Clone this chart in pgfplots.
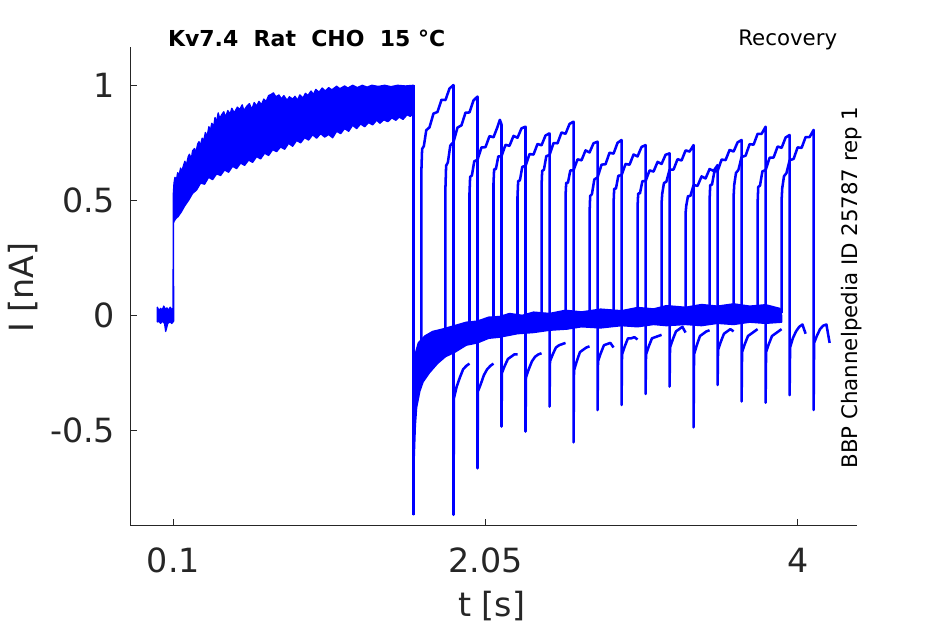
\documentclass[border=0pt]{standalone}
\usepackage{pgfplots}
\pgfplotsset{compat=1.18}
\usepackage{fontspec}
\setmainfont{DejaVu Sans}
\definecolor{axgray}{HTML}{262626}
\definecolor{trc}{RGB}{0,0,255}
\begin{document}
\begin{tikzpicture}
\path[use as bounding box] (0,0) rectangle (708.75pt,468pt);
\begin{axis}[
 at={(97.5pt,73.5pt)}, anchor=south west,
 scale only axis, width=545pt, height=359.5pt,
 xmin=-0.171, xmax=4.369, ymin=-0.916, ymax=1.168,
 axis x line*=bottom, axis y line*=left,
 axis line style={axgray, line width=0.75pt},
 xtick={0.1,2.05,4}, xticklabels={0.1,2.05,4},
 ytick={-0.5,0,0.5,1}, yticklabels={-0.5,0,0.5,1},
 tick align=inside, major tick length=5.25pt,
 tick style={axgray, line width=0.75pt},
 ticklabel style={font=\fontsize{25}{30}\selectfont, text=axgray, inner sep=0pt},
 xticklabel style={anchor=base, yshift=-35pt},
 yticklabel style={anchor=east, xshift=-11pt},
 tr/.style={draw=trc, solid, mark=none, line width=1.9pt, line join=round},
 band/.style={draw=trc, fill=trc, solid, mark=none, line width=1pt, line join=round},
]
% pulse 1 band (all sweeps overlaid)
\addplot[band] coordinates {
(0,-0.03) (0,0.035) (0.01,0.02) (0.02,0.03) (0.03,0.022) (0.04,0.04) (0.05,0.025) (0.06,0.032) (0.07,0.022) (0.08,0.035) (0.09,0.025) (0.098,0.03)
(0.100,0.53) (0.104,0.575) (0.110,0.60) (0.118,0.585) (0.127,0.62) (0.135,0.605) (0.145,0.64) (0.152,0.625) (0.165,0.655) (0.172,0.67) (0.18,0.65) (0.193,0.69) (0.20,0.70) (0.212,0.68) (0.22,0.715) (0.232,0.725) (0.24,0.705) (0.252,0.745) (0.26,0.755) (0.268,0.735) (0.28,0.77) (0.29,0.76) (0.30,0.795) (0.31,0.775) (0.322,0.82) (0.33,0.80) (0.34,0.835) (0.352,0.82) (0.36,0.86) (0.37,0.84) (0.38,0.88) (0.39,0.855) (0.40,0.87) (0.415,0.885) (0.425,0.86) (0.44,0.89) (0.455,0.875) (0.465,0.9) (0.48,0.88) (0.50,0.905) (0.515,0.895) (0.53,0.915) (0.54,0.89) (0.56,0.91) (0.575,0.92) (0.59,0.895) (0.605,0.925) (0.62,0.91) (0.635,0.93) (0.65,0.915) (0.665,0.94) (0.68,0.93) (0.695,0.955) (0.71,0.96) (0.725,0.967) (0.74,0.95) (0.76,0.958) (0.775,0.94) (0.79,0.955) (0.81,0.935) (0.825,0.95) (0.845,0.94) (0.86,0.952) (0.875,0.935) (0.89,0.958) (0.91,0.945) (0.925,0.965) (0.94,0.955) (0.96,0.975) (0.975,0.96) (0.99,0.982) (1.01,0.97) (1.03,0.988) (1.05,0.975) (1.07,0.99) (1.09,0.98) (1.12,0.996) (1.14,0.985) (1.17,0.997) (1.19,0.988) (1.22,1.0) (1.25,0.99) (1.28,1.0) (1.31,0.992) (1.34,1.0) (1.38,0.995) (1.42,1.0) (1.46,0.994) (1.50,1.0) (1.55,0.997) (1.60,1.0)
(1.60,0.878) (1.58,0.865) (1.56,0.872) (1.535,0.852) (1.51,0.862) (1.49,0.848) (1.465,0.858) (1.44,0.842) (1.415,0.85) (1.39,0.835) (1.37,0.848) (1.345,0.828) (1.32,0.838) (1.295,0.82) (1.27,0.832) (1.245,0.812) (1.22,0.826) (1.195,0.80) (1.17,0.812) (1.145,0.79) (1.12,0.8) (1.095,0.772) (1.07,0.786) (1.045,0.775) (1.02,0.79) (0.995,0.77) (0.97,0.785) (0.945,0.762) (0.92,0.772) (0.895,0.75) (0.87,0.76) (0.845,0.735) (0.82,0.748) (0.795,0.722) (0.77,0.732) (0.745,0.712) (0.72,0.72) (0.695,0.695) (0.67,0.705) (0.645,0.68) (0.62,0.69) (0.595,0.665) (0.57,0.675) (0.545,0.652) (0.52,0.662) (0.495,0.638) (0.47,0.648) (0.445,0.622) (0.42,0.632) (0.395,0.608) (0.37,0.615) (0.345,0.59) (0.32,0.6) (0.295,0.57) (0.27,0.575) (0.245,0.545) (0.22,0.53) (0.195,0.5) (0.17,0.475) (0.15,0.45) (0.13,0.43) (0.115,0.42) (0.105,0.41) (0.10,0.40)
(0.102,-0.025) (0.09,-0.035) (0.08,-0.028) (0.065,-0.035) (0.052,-0.07) (0.045,-0.035) (0.03,-0.025) (0.02,-0.035) (0.01,-0.025) (0,-0.03)
};
% drop at end of pulse 1
\addplot[tr] coordinates {(1.6,1.0) (1.6,-0.87)};
% recovery band
\addplot[band] coordinates {
(1.600,-0.87) (1.603,-0.25) (1.61,-0.17) (1.63,-0.12) (1.67,-0.09) (1.72,-0.07) (1.78,-0.06) (1.83,-0.05) (1.88,-0.04) (1.93,-0.03) (2.0,-0.025) (2.07,-0.008) (2.14,-0.005) (2.2,0.008) (2.28,0.0) (2.35,0.014) (2.45,0.008) (2.55,0.022) (2.65,0.015) (2.77,0.027) (2.9,0.02) (3.0,0.034) (3.1,0.028) (3.18,0.042) (3.3,0.035) (3.4,0.047) (3.5,0.04) (3.6,0.05) (3.7,0.04) (3.8,0.046) (3.89,0.03) (3.90,0.0)
(3.90,-0.03) (3.8,-0.035) (3.7,-0.03) (3.6,-0.04) (3.5,-0.035) (3.4,-0.045) (3.3,-0.04) (3.18,-0.045) (3.1,-0.04) (3.0,-0.05) (2.9,-0.045) (2.77,-0.055) (2.65,-0.05) (2.56,-0.06) (2.45,-0.065) (2.35,-0.075) (2.25,-0.08) (2.14,-0.095) (2.07,-0.10) (2.0,-0.12) (1.93,-0.13) (1.86,-0.16) (1.80,-0.18) (1.75,-0.21) (1.70,-0.25) (1.66,-0.29) (1.64,-0.33) (1.62,-0.40) (1.612,-0.48) (1.605,-0.62) (1.600,-0.87)
};
% second pulses
\addplot[tr] coordinates {(1.65,-0.30) (1.65,0.639) (1.654,0.723) (1.665,0.736) (1.68,0.805) (1.70,0.817) (1.725,0.877) (1.75,0.884) (1.775,0.937) (1.80,0.936) (1.825,0.986) (1.85,1.001) (1.85,-0.868) (1.853,-0.36) (1.87,-0.31) (1.89,-0.27) (1.91,-0.235) (1.93,-0.22) (1.95,-0.21)};
\addplot[tr] coordinates {(1.80,-0.12) (1.80,0.560) (1.804,0.650) (1.815,0.665) (1.83,0.738) (1.85,0.753) (1.875,0.816) (1.90,0.826) (1.925,0.881) (1.95,0.882) (1.975,0.934) (2.00,0.951) (2.00,-0.665) (2.003,-0.33) (2.02,-0.30) (2.04,-0.26) (2.06,-0.235) (2.08,-0.22) (2.10,-0.21)};
\addplot[tr] coordinates {(1.95,-0.09) (1.95,0.530) (1.954,0.602) (1.965,0.608) (1.98,0.670) (2.00,0.676) (2.025,0.730) (2.05,0.731) (2.075,0.779) (2.10,0.774) (2.125,0.819) (2.14,0.85) (2.15,0.83) (2.15,-0.484) (2.153,-0.25) (2.17,-0.22) (2.19,-0.19) (2.21,-0.18) (2.23,-0.17) (2.25,-0.17)};
\addplot[tr] coordinates {(2.10,-0.07) (2.10,0.574) (2.104,0.635) (2.115,0.636) (2.13,0.691) (2.15,0.692) (2.175,0.741) (2.20,0.737) (2.225,0.780) (2.25,0.772) (2.275,0.813) (2.30,0.82) (2.30,-0.506) (2.303,-0.27) (2.32,-0.235) (2.34,-0.20) (2.36,-0.18) (2.38,-0.17) (2.40,-0.165)};
\addplot[tr] coordinates {(2.25,-0.05) (2.25,0.516) (2.254,0.583) (2.265,0.587) (2.28,0.646) (2.30,0.649) (2.325,0.701) (2.35,0.699) (2.375,0.745) (2.40,0.739) (2.425,0.782) (2.45,0.791) (2.45,-0.397) (2.453,-0.20) (2.47,-0.17) (2.49,-0.14) (2.51,-0.13) (2.53,-0.125) (2.55,-0.12)};
\addplot[tr] coordinates {(2.40,-0.04) (2.40,0.560) (2.404,0.628) (2.415,0.633) (2.43,0.692) (2.45,0.697) (2.475,0.749) (2.50,0.748) (2.525,0.795) (2.55,0.789) (2.575,0.832) (2.60,0.842) (2.60,-0.552) (2.603,-0.24) (2.62,-0.20) (2.64,-0.16) (2.66,-0.15) (2.68,-0.14) (2.70,-0.135)};
\addplot[tr] coordinates {(2.55,-0.03) (2.55,0.516) (2.554,0.576) (2.565,0.576) (2.58,0.630) (2.60,0.630) (2.625,0.678) (2.65,0.674) (2.675,0.717) (2.70,0.708) (2.725,0.748) (2.75,0.755) (2.75,-0.412) (2.753,-0.20) (2.77,-0.165) (2.79,-0.13) (2.81,-0.125) (2.83,-0.12) (2.85,-0.14)};
\addplot[tr] coordinates {(2.70,-0.02) (2.70,0.443) (2.704,0.519) (2.715,0.527) (2.73,0.591) (2.75,0.599) (2.775,0.655) (2.80,0.657) (2.825,0.707) (2.85,0.703) (2.875,0.750) (2.90,0.762) (2.90,-0.39) (2.903,-0.17) (2.92,-0.135) (2.94,-0.10) (2.96,-0.10) (2.98,-0.095) (3.00,-0.105)};
\addplot[tr] coordinates {(2.85,-0.02) (2.85,0.487) (2.854,0.550) (2.865,0.551) (2.88,0.607) (2.90,0.609) (2.925,0.658) (2.95,0.655) (2.975,0.699) (3.00,0.691) (3.025,0.732) (3.05,0.74) (3.05,-0.342) (3.053,-0.17) (3.07,-0.135) (3.09,-0.10) (3.11,-0.095) (3.13,-0.09) (3.15,-0.085)};
\addplot[tr] coordinates {(3.00,-0.01) (3.00,0.472) (3.004,0.530) (3.015,0.530) (3.03,0.583) (3.05,0.583) (3.075,0.630) (3.10,0.625) (3.125,0.667) (3.15,0.658) (3.175,0.698) (3.20,0.704) (3.20,-0.31) (3.203,-0.14) (3.22,-0.105) (3.24,-0.07) (3.26,-0.06) (3.28,-0.05) (3.30,-0.075)};
\addplot[tr] coordinates {(3.15,-0.01) (3.15,0.487) (3.154,0.528) (3.165,0.575) (3.18,0.581) (3.20,0.633) (3.225,0.634) (3.25,0.679) (3.275,0.673) (3.30,0.717) (3.325,0.712) (3.35,0.74) (3.35,-0.487) (3.353,-0.17) (3.37,-0.13) (3.39,-0.09) (3.41,-0.08) (3.43,-0.07) (3.45,-0.065)};
\addplot[tr] coordinates {(3.30,0.0) (3.30,0.443) (3.304,0.475) (3.315,0.518) (3.33,0.519) (3.35,0.566) (3.375,0.563) (3.40,0.604) (3.425,0.595) (3.45,0.636) (3.475,0.628) (3.50,0.653) (3.50,-0.303) (3.503,-0.15) (3.52,-0.115) (3.54,-0.08) (3.56,-0.07) (3.58,-0.06) (3.60,-0.07)};
\addplot[tr] coordinates {(3.45,0.0) (3.45,0.502) (3.454,0.566) (3.465,0.568) (3.48,0.625) (3.50,0.627) (3.525,0.677) (3.55,0.675) (3.575,0.719) (3.60,0.712) (3.625,0.752) (3.65,0.762) (3.65,-0.375) (3.653,-0.16) (3.67,-0.125) (3.69,-0.09) (3.71,-0.08) (3.73,-0.07) (3.75,-0.06)};
\addplot[tr] coordinates {(3.60,0.01) (3.60,0.516) (3.604,0.567) (3.615,0.619) (3.63,0.632) (3.65,0.688) (3.675,0.694) (3.70,0.744) (3.725,0.742) (3.75,0.789) (3.775,0.789) (3.80,0.82) (3.80,-0.38) (3.803,-0.16) (3.82,-0.125) (3.84,-0.09) (3.86,-0.08) (3.88,-0.07) (3.90,-0.06)};
\addplot[tr] coordinates {(3.75,0.01) (3.75,0.487) (3.754,0.558) (3.765,0.564) (3.78,0.626) (3.80,0.631) (3.825,0.685) (3.85,0.686) (3.875,0.734) (3.90,0.728) (3.925,0.773) (3.95,0.784) (3.95,-0.347) (3.953,-0.14) (3.97,-0.10) (3.99,-0.07) (4.01,-0.05) (4.03,-0.04) (4.05,-0.08)};
\addplot[tr] coordinates {(3.90,0.01) (3.90,0.502) (3.904,0.553) (3.915,0.605) (3.93,0.618) (3.95,0.674) (3.975,0.680) (4.00,0.730) (4.025,0.728) (4.05,0.775) (4.075,0.775) (4.10,0.806) (4.10,-0.412) (4.103,-0.12) (4.12,-0.09) (4.14,-0.06) (4.16,-0.045) (4.18,-0.04) (4.20,-0.12)};
\end{axis}
\node[font=\fontsize{16.5}{20}\selectfont\bfseries, anchor=base] at (230pt,433pt) {Kv7.4\ \ Rat\ \ CHO\ \ 15 °C};
\node[font=\fontsize{16}{19}\selectfont, anchor=base] at (590.8pt,433.5pt) {Recovery};
\node[font=\fontsize{16}{19}\selectfont, anchor=base, rotate=90] at (643pt,252.4pt) {BBP Channelpedia ID 25787 rep 1};
\node[font=\fontsize{25}{30}\selectfont, text=axgray, anchor=base, rotate=90] at (25pt,252.4pt) {I [nA]};
\node[font=\fontsize{25}{30}\selectfont, text=axgray, anchor=base] at (368.8pt,5.5pt) {t [s]};
\end{tikzpicture}
\end{document}
